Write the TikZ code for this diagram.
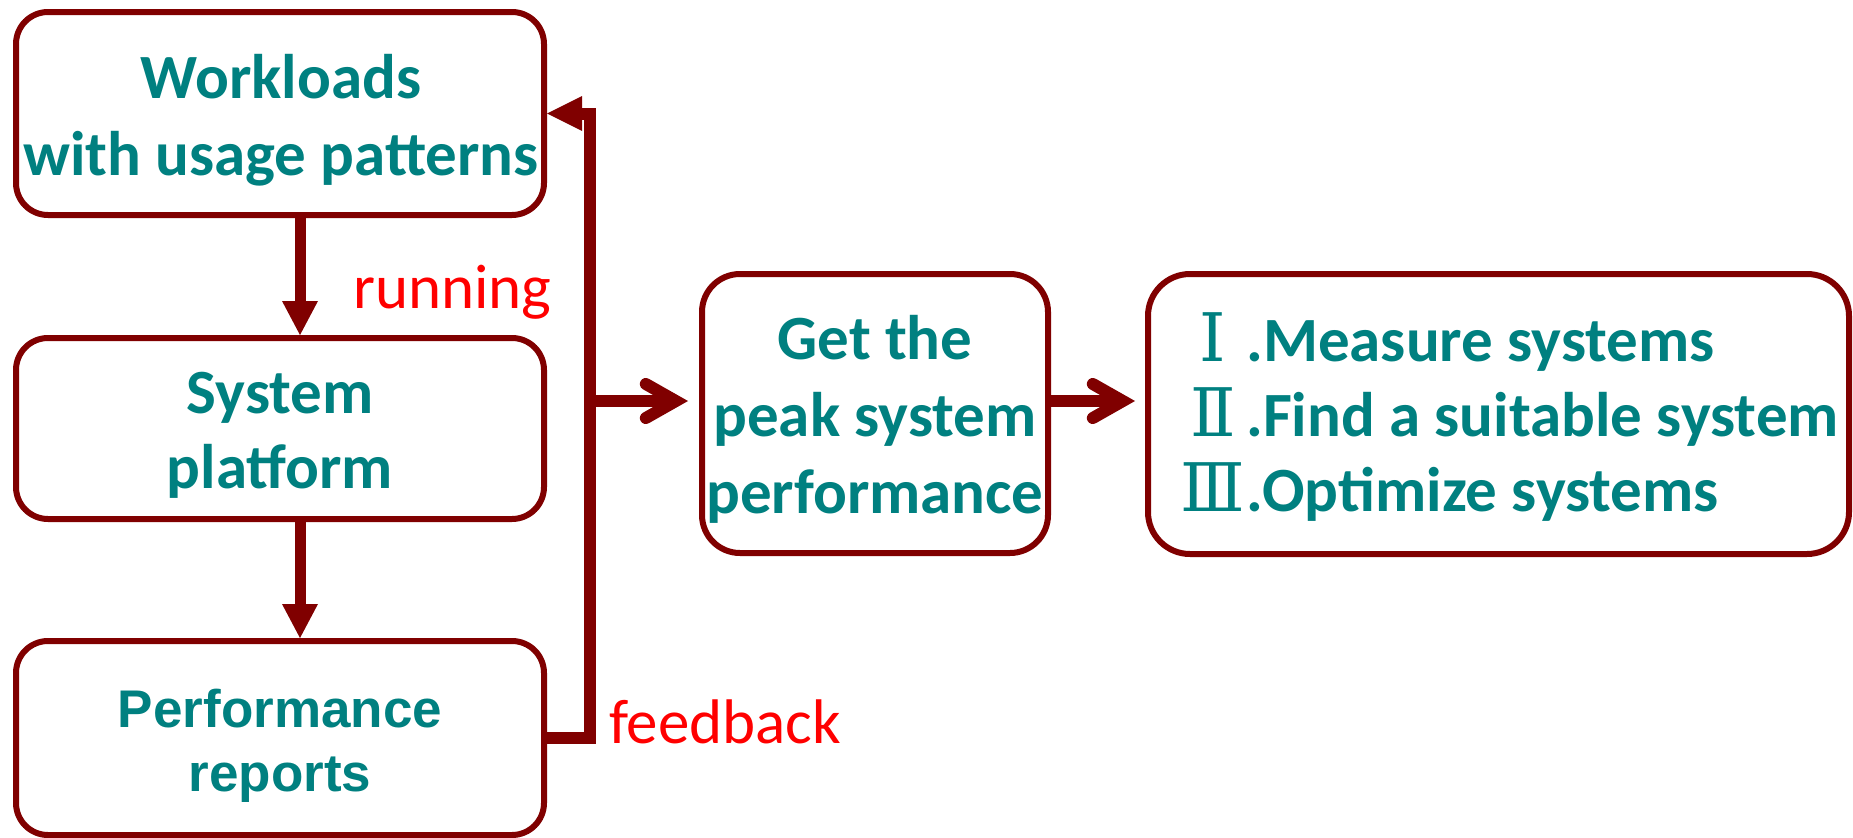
\documentclass[tikz,border=0pt]{standalone}
\usepackage{fontspec}
\usepackage{graphicx}
\setmainfont{Carlito}
\newfontfamily\arialfont{Liberation Sans}
\newfontfamily\numfont{DejaVu Serif}
\usetikzlibrary{arrows.meta}
\definecolor{darkred}{RGB}{128,0,0}
\definecolor{tealtext}{RGB}{0,128,128}
\definecolor{labelred}{RGB}{255,0,0}
% Roman numeral set in a fixed-width slot so the dots line up
\newcommand\romanslot[1]{\makebox[66pt][c]{\numfont\mdseries\fontsize{67pt}{67pt}\selectfont #1}}

\begin{document}
\begin{tikzpicture}[x=1pt,y=-1pt,
  box/.style={draw=darkred, line width=6pt, rounded corners=#1, inner sep=0pt, fill=white},
  box/.default=32pt,
  maintext/.style={text=tealtext, font=\bfseries\fontsize{63pt}{77pt}\selectfont, align=center, inner sep=0pt},
  reporttext/.style={text=tealtext, font=\arialfont\bfseries\fontsize{53pt}{64pt}\selectfont, align=center, inner sep=0pt},
  labeltext/.style={text=labelred, font=\fontsize{63pt}{77pt}\selectfont, inner sep=0pt, anchor=base west},
  down/.style={draw=darkred, line width=11pt, -{Triangle[length=34pt,width=36pt,line width=0pt]}},
  feedbackline/.style={draw=darkred, line width=12pt, line join=miter, -{Triangle[length=35pt,width=35pt,line width=0pt]}},
  chev/.style={draw=darkred, line width=12pt, -{Straight Barb[length=30pt,width=34pt,line cap=round,line join=miter]}}
]
\fill[white] (0,0) rectangle (1853,838);
\useasboundingbox (0,0) rectangle (1853,838);

% boxes
\node[box, minimum width=528pt, minimum height=203pt] (box1) at (280,113.5) {};
\node[box, minimum width=528pt, minimum height=181pt] (box2) at (280,428.5) {};
\node[box, minimum width=528pt, minimum height=194pt] (box3) at (280,738) {};
\node[box=38pt, minimum width=346pt, minimum height=279pt] (box4) at (875,413.5) {};
\node[box=42pt, minimum width=701pt, minimum height=280pt] (box5) at (1498.5,414) {};

% box texts
\node[maintext] (t1) at (281,120.5) {Workloads\\with usage patterns};
\node[maintext, font=\bfseries\fontsize{63pt}{75pt}\selectfont] (t2) at (280,435) {System\\platform};
\node[reporttext] (t3) at (280,746) {Performance\\reports};
\node[maintext] (t4) at (875,419.5) {Get the\\peak system\\performance};
\node[maintext, font=\bfseries\fontsize{63pt}{75pt}\selectfont, align=left, anchor=west] (t5) at (1180,417)
  {\romanslot{Ⅰ}.Measure systems\\\romanslot{Ⅱ}.Find a suitable system\\\romanslot{Ⅲ}.Optimize systems};

% edge labels
\node[labeltext] (lrun) at (353,308) {running};
\node[labeltext] (lfb) at (609,743) {feedback};

% helper coordinates for the feedback loop
\coordinate (fbx) at (590,0);
\coordinate (arm) at (0,401);

% connectors
\draw[down] ([xshift=20pt]box1.south) -- ([xshift=20pt]box2.north);
\draw[down] ([xshift=20pt]box2.south) -- ([xshift=20pt]box3.north);
\draw[feedbackline] (box3.east) -- (box3.east -| fbx) -- (box1.east -| fbx) -- (box1.east);
\draw[chev, shorten >=11pt] (fbx |- arm) -- (box4.west |- arm);
\draw[chev, shorten >=10pt] (box4.east |- arm) -- (box5.west |- arm);
\end{tikzpicture}
\end{document}
